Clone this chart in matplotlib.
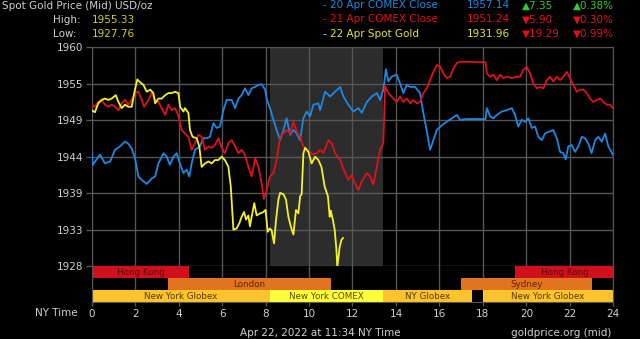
import numpy as np
import matplotlib
matplotlib.use("Agg")
import matplotlib.pyplot as plt

# ---------------- data ----------------
apr20_comex = [(0.0,1944.5),(0.05,1942.8),(0.38,1944.3),(0.61,1943.0),(0.85,1943.3),(1.07,1945.0),(1.3,1945.5),
 (1.53,1946.2),(1.68,1945.9),(1.84,1945.2),(1.99,1943.8),(2.15,1941.1),(2.3,1940.6),(2.53,1940.0),(2.76,1940.8),
 (2.92,1941.1),(3.07,1943.0),(3.3,1944.5),(3.45,1944.0),(3.6,1942.8),(3.76,1944.0),(3.91,1944.5),(4.06,1943.0),
 (4.22,1941.6),(4.37,1942.1),(4.49,1941.1),(4.6,1943.0),(4.75,1945.0),(4.98,1945.5),(5.14,1946.7),(5.3,1946.7),
 (5.44,1946.9),(5.6,1948.9),(5.75,1948.2),(5.9,1948.4),(6.06,1950.8),(6.21,1952.3),(6.44,1952.3),(6.6,1951.1),
 (6.75,1952.5),(6.9,1953.0),(7.05,1954.0),(7.21,1953.0),(7.36,1954.0),(7.52,1954.2),(7.67,1954.5),(7.82,1954.6),
 (7.98,1953.8),(8.05,1952.5),(8.2,1951.1),(8.36,1949.4),(8.51,1947.9),(8.67,1946.4),(8.82,1947.9),(8.97,1949.6),
 (9.13,1947.2),(9.28,1947.9),(9.43,1947.4),(9.59,1946.4),(9.74,1949.6),(9.89,1950.6),(10.05,1949.9),(10.2,1951.6),
 (10.43,1951.8),(10.51,1950.8),(10.74,1953.5),(10.97,1952.8),(11.2,1953.5),(11.43,1954.2),(11.58,1952.8),
 (11.81,1951.6),(12.04,1950.6),(12.27,1951.1),(12.43,1950.4),(12.66,1952.0),(12.89,1952.8),(13.12,1953.3),
 (13.27,1952.3),(13.42,1953.8),(13.54,1956.8),(13.65,1955.0),(13.8,1955.7),(14.03,1956.0),(14.19,1954.7),
 (14.34,1953.3),(14.5,1954.5),(14.65,1954.2),(14.88,1954.2),(15.11,1953.3),(15.26,1950.4),(15.42,1947.7),
 (15.57,1945.0),(15.72,1946.4),(15.88,1947.9),(16.11,1948.6),(16.34,1949.1),(16.57,1949.6),(16.8,1950.1),
 (16.95,1949.4),(17.26,1949.5),(18.12,1949.5),(18.18,1951.1),(18.33,1949.9),(18.48,1949.6),(18.64,1950.1),
 (18.87,1950.6),(19.1,1950.8),(19.33,1951.1),(19.48,1950.1),(19.63,1948.4),(19.79,1949.4),(19.94,1949.1),
 (20.09,1949.6),(20.25,1948.2),(20.4,1948.4),(20.55,1946.9),(20.71,1946.4),(20.86,1947.4),(21.09,1947.7),
 (21.24,1947.9),(21.4,1946.7),(21.55,1944.7),(21.7,1944.5),(21.81,1943.6),(21.93,1945.5),(22.09,1945.7),
 (22.24,1944.7),(22.39,1945.5),(22.55,1946.9),(22.7,1946.7),(22.85,1945.9),(23.0,1944.5),(23.16,1946.4),
 (23.31,1946.9),(23.47,1946.2),(23.62,1947.4),(23.77,1945.5),(23.98,1944.3)]

apr21_comex = [(0.0,1951.6),(0.15,1951.3),(0.3,1952.0),(0.46,1952.3),(0.61,1951.6),(0.77,1951.3),(0.92,1951.6),
 (1.07,1951.3),(1.23,1950.8),(1.38,1951.8),(1.53,1952.3),(1.68,1951.6),(1.84,1952.3),(1.99,1953.3),(2.15,1953.5),
 (2.3,1952.3),(2.41,1951.3),(2.61,1952.3),(2.76,1953.3),(2.92,1952.3),(3.07,1952.0),(3.22,1951.1),(3.38,1950.1),
 (3.53,1951.6),(3.68,1950.8),(3.84,1951.1),(3.99,1949.9),(4.14,1947.9),(4.29,1947.4),(4.45,1946.9),(4.6,1945.0),
 (4.75,1946.0),(4.91,1947.2),(5.06,1946.9),(5.21,1945.0),(5.37,1945.5),(5.52,1945.3),(5.67,1945.7),(5.83,1946.7),
 (5.98,1945.3),(6.13,1944.5),(6.29,1946.0),(6.44,1946.4),(6.6,1945.5),(6.75,1944.5),(6.9,1945.0),(7.05,1944.3),
 (7.21,1942.5),(7.36,1941.1),(7.52,1943.8),(7.67,1942.5),(7.82,1940.1),(7.92,1937.8),(8.05,1939.1),(8.2,1941.1),
 (8.36,1941.6),(8.51,1943.5),(8.67,1946.9),(8.82,1947.4),(8.97,1947.9),(9.13,1947.4),(9.28,1949.1),(9.43,1947.7),
 (9.59,1946.9),(9.74,1945.5),(9.89,1945.0),(10.05,1944.7),(10.2,1944.3),(10.35,1944.5),(10.51,1945.0),
 (10.66,1944.5),(10.89,1946.4),(11.05,1945.9),(11.2,1944.5),(11.43,1943.5),(11.66,1941.6),(11.81,1940.6),
 (11.96,1941.3),(12.12,1940.1),(12.27,1939.1),(12.43,1940.4),(12.66,1941.6),(12.81,1941.1),(12.96,1939.9),
 (13.12,1942.5),(13.27,1945.0),(13.42,1946.0),(13.5,1954.3),(13.65,1953.3),(13.88,1952.5),(14.03,1952.0),
 (14.19,1952.8),(14.34,1952.0),(14.5,1952.5),(14.65,1951.8),(14.8,1952.3),(14.96,1951.8),(15.11,1952.0),
 (15.26,1953.3),(15.42,1954.0),(15.57,1955.2),(15.72,1956.4),(15.88,1957.4),(16.03,1957.2),(16.18,1956.2),
 (16.34,1955.5),(16.49,1955.7),(16.64,1956.9),(16.8,1957.7),(16.95,1957.9),(18.12,1957.8),(18.18,1956.2),
 (18.33,1955.7),(18.48,1956.0),(18.64,1955.2),(18.79,1956.0),(18.94,1955.5),(19.1,1955.7),(19.33,1955.5),
 (19.56,1955.7),(19.71,1955.7),(19.86,1956.7),(20.02,1957.1),(20.17,1956.2),(20.32,1954.7),(20.48,1954.0),
 (20.63,1954.2),(20.78,1954.0),(20.94,1955.2),(21.09,1955.7),(21.24,1955.0),(21.4,1955.7),(21.55,1955.2),
 (21.7,1955.7),(21.86,1956.4),(22.01,1955.5),(22.16,1954.5),(22.32,1953.5),(22.47,1953.8),(22.62,1953.8),
 (22.78,1953.3),(22.93,1952.5),(23.08,1952.0),(23.24,1952.3),(23.39,1952.5),(23.54,1952.0),(23.7,1951.6),
 (23.85,1951.6),(23.98,1951.1)]

apr22_spot = [(0.0,1950.8),(0.15,1950.5),(0.3,1951.8),(0.46,1952.3),(0.61,1952.5),(0.77,1952.3),(0.92,1952.5),
 (1.11,1953.0),(1.23,1952.0),(1.38,1951.1),(1.53,1951.6),(1.68,1951.3),(1.84,1951.3),(1.99,1953.8),(2.1,1955.3),
 (2.22,1954.9),(2.38,1954.5),(2.53,1953.5),(2.69,1953.8),(2.84,1953.3),(2.92,1951.8),(3.07,1952.5),(3.22,1952.5),
 (3.38,1953.0),(3.53,1953.3),(3.68,1953.3),(3.84,1953.5),(3.99,1953.3),(4.07,1951.3),(4.22,1950.6),(4.29,1951.1),
 (4.45,1950.4),(4.52,1947.9),(4.64,1946.9),(4.83,1946.7),(4.95,1945.5),(5.06,1942.5),(5.21,1943.0),(5.37,1943.3),
 (5.52,1943.0),(5.67,1943.5),(5.83,1943.5),(5.98,1944.0),(6.13,1943.5),(6.29,1942.5),(6.4,1939.6),(6.52,1933.3),
 (6.67,1933.5),(6.8,1934.3),(6.9,1935.2),(7.01,1935.9),(7.1,1934.8),(7.21,1935.4),(7.28,1933.8),(7.39,1935.7),
 (7.48,1937.2),(7.59,1935.4),(7.75,1935.7),(7.9,1935.9),(8.0,1936.2),(8.1,1933.0),(8.2,1933.5),(8.28,1933.2),
 (8.39,1931.3),(8.48,1934.7),(8.59,1937.7),(8.67,1938.7),(8.82,1938.5),(8.94,1937.7),(9.05,1935.2),(9.16,1933.8),
 (9.28,1932.6),(9.4,1936.2),(9.51,1935.7),(9.59,1938.2),(9.66,1938.5),(9.74,1944.5),(9.82,1945.3),(9.97,1944.7),
 (10.12,1943.0),(10.28,1944.0),(10.43,1943.5),(10.57,1942.5),(10.72,1939.6),(10.87,1938.2),(10.95,1935.2),
 (11.0,1936.1),(11.1,1934.7),(11.18,1933.3),(11.26,1930.4),(11.3,1927.8),(11.41,1930.8),(11.49,1931.8),
 (11.56,1932.1)]

# market sessions: (label, start hour, end hour, market)
sessions = [
    ("Hong Kong", 0.0, 4.5, "hk"),
    ("Hong Kong", 19.5, 24.0, "hk"),
    ("London", 3.5, 11.0, "ldn"),
    ("Sydney", 17.0, 23.0, "ldn"),
    ("New York Globex", 0.0, 8.2, "globex"),
    ("New York COMEX", 8.2, 13.4, "comex"),
    ("NY Globex", 13.4, 17.5, "globex"),
    ("New York Globex", 18.0, 24.0, "globex"),
]
comex_open, comex_close = 8.2, 13.4

x_ticks = list(range(0, 25, 2))
y_min, y_max = 1928, 1960

header_rows = [
    ("- 20 Apr COMEX Close", "1957.14", "\u25b27.35", "\u25b20.38%"),
    ("- 21 Apr COMEX Close", "1951.24", "\u25bc5.90", "\u25bc0.30%"),
    ("- 22 Apr Spot Gold", "1931.96", "\u25bc19.29", "\u25bc0.99%"),
]
high_val, low_val = "1955.33", "1927.76"

# ---------------- style ----------------
BLUE, RED, YEL = "#1e88e0", "#e0101c", "#f2f22a"
GRID = "#565656"
TXT = "#d0d0d0"
row_of = {"hk": 2, "ldn": 1, "globex": 0, "comex": 0}
col_of = {"hk": "#d0101c", "ldn": "#e2741f", "globex": "#fdc32e", "comex": "#ffff3c"}
txtcol_of = {"hk": "#5a0a0a", "ldn": "#5a2a05", "globex": "#5a3a05", "comex": "#5a4a05"}

plt.rcParams['font.family'] = ['DejaVu Sans']
W, H = 640, 339
fig = plt.figure(figsize=(6.4, 3.39), dpi=100, facecolor="black")

def fx(px):
    return px / W

def fy(py):
    return 1 - py / H

L, R = 91.7, 613.3
T, B1, B2 = 47.3, 266.0, 301.7
ax = fig.add_axes([fx(L), fy(B1), fx(R - L), (B1 - T) / H], facecolor="black")
sx = fig.add_axes([fx(L), fy(B2), fx(R - L), (B2 - B1) / H], facecolor="black")

# main axes
ax.set_xlim(0, 24)
ax.set_ylim(y_min, y_max)
yt = np.linspace(y_min, y_max, 7)
ax.set_yticks(yt)
ax.set_yticklabels([f"{int(round(v))}" for v in yt])
ax.set_xticks(x_ticks)
ax.set_axisbelow(True)
ax.grid(True, color=GRID, lw=1.0)
ax.tick_params(axis="x", bottom=False, labelbottom=False)
ax.tick_params(axis="y", color=GRID, labelcolor=TXT, length=4, width=1, labelsize=7.5, pad=2)
for s in ax.spines.values():
    s.set_color(GRID)
ax.axvspan(comex_open, comex_close, color="#2c2c2c", zorder=0.2, lw=0)

for series, c, z in [(apr20_comex, BLUE, 3), (apr21_comex, RED, 4), (apr22_spot, YEL, 5)]:
    hs, vs = zip(*series)
    ax.plot(hs, vs, color=c, lw=1.3, zorder=z, solid_joinstyle="round")

# session axes
sx.set_xlim(0, 24)
sx.set_ylim(0, 3)
sx.set_yticks([])
sx.set_xticks(x_ticks)
sx.set_axisbelow(True)
sx.grid(True, axis="x", color=GRID, lw=1.0)
sx.tick_params(axis="x", color=GRID, labelcolor=TXT, length=3, width=1, labelsize=7.5, pad=2)
for k, s in sx.spines.items():
    s.set_color(GRID)
sx.spines["top"].set_visible(False)
for label, a, b, m in sessions:
    r = row_of[m]
    sx.barh(r + 0.5, b - a, left=a, height=1.0, color=col_of[m], lw=0, zorder=2)
    sx.text((a + b) / 2, r + 0.47, label, ha="center", va="center", fontsize=6.3,
            color=txtcol_of[m], zorder=3)

fig.text(fx(35), fy(312.5), "NY Time", color=TXT, fontsize=7.5, ha="left", va="center")

# header
fig.text(fx(2), fy(6), "Spot Gold Price (Mid) USD/oz", color=TXT, fontsize=7.5, ha="left", va="center")
fig.text(fx(53), fy(20), "High:", color=TXT, fontsize=7.5, ha="left", va="center")
fig.text(fx(53), fy(34), "Low:", color=TXT, fontsize=7.5, ha="left", va="center")
fig.text(fx(92), fy(20), high_val, color="#d2d21e", fontsize=7.5, ha="left", va="center")
fig.text(fx(92), fy(34), low_val, color="#d2d21e", fontsize=7.5, ha="left", va="center")

row_y = [5.3, 19.3, 33.7]
name_cols = [BLUE, RED, "#e6e62a"]
chg_cols = ["#33cc33", RED, RED]
for (name, price, chg, pct), yy, nc, cc in zip(header_rows, row_y, name_cols, chg_cols):
    fig.text(fx(323), fy(yy), name, color=nc, fontsize=7.5, ha="left", va="center")
    fig.text(fx(466.5), fy(yy), price, color=nc, fontsize=7.5, ha="left", va="center")
    fig.text(fx(522), fy(yy), chg, color=cc, fontsize=7.5, ha="left", va="center")
    fig.text(fx(573), fy(yy), pct, color=cc, fontsize=7.5, ha="left", va="center")

fig.text(fx(240), fy(333), "Apr 22, 2022 at 11:34 NY Time", color=TXT, fontsize=7.5, ha="left", va="center")
fig.text(fx(611.7), fy(333), "goldprice.org (mid)", color=TXT, fontsize=7.5, ha="right", va="center")

fig.savefig("out.png", dpi=100, facecolor="black")
